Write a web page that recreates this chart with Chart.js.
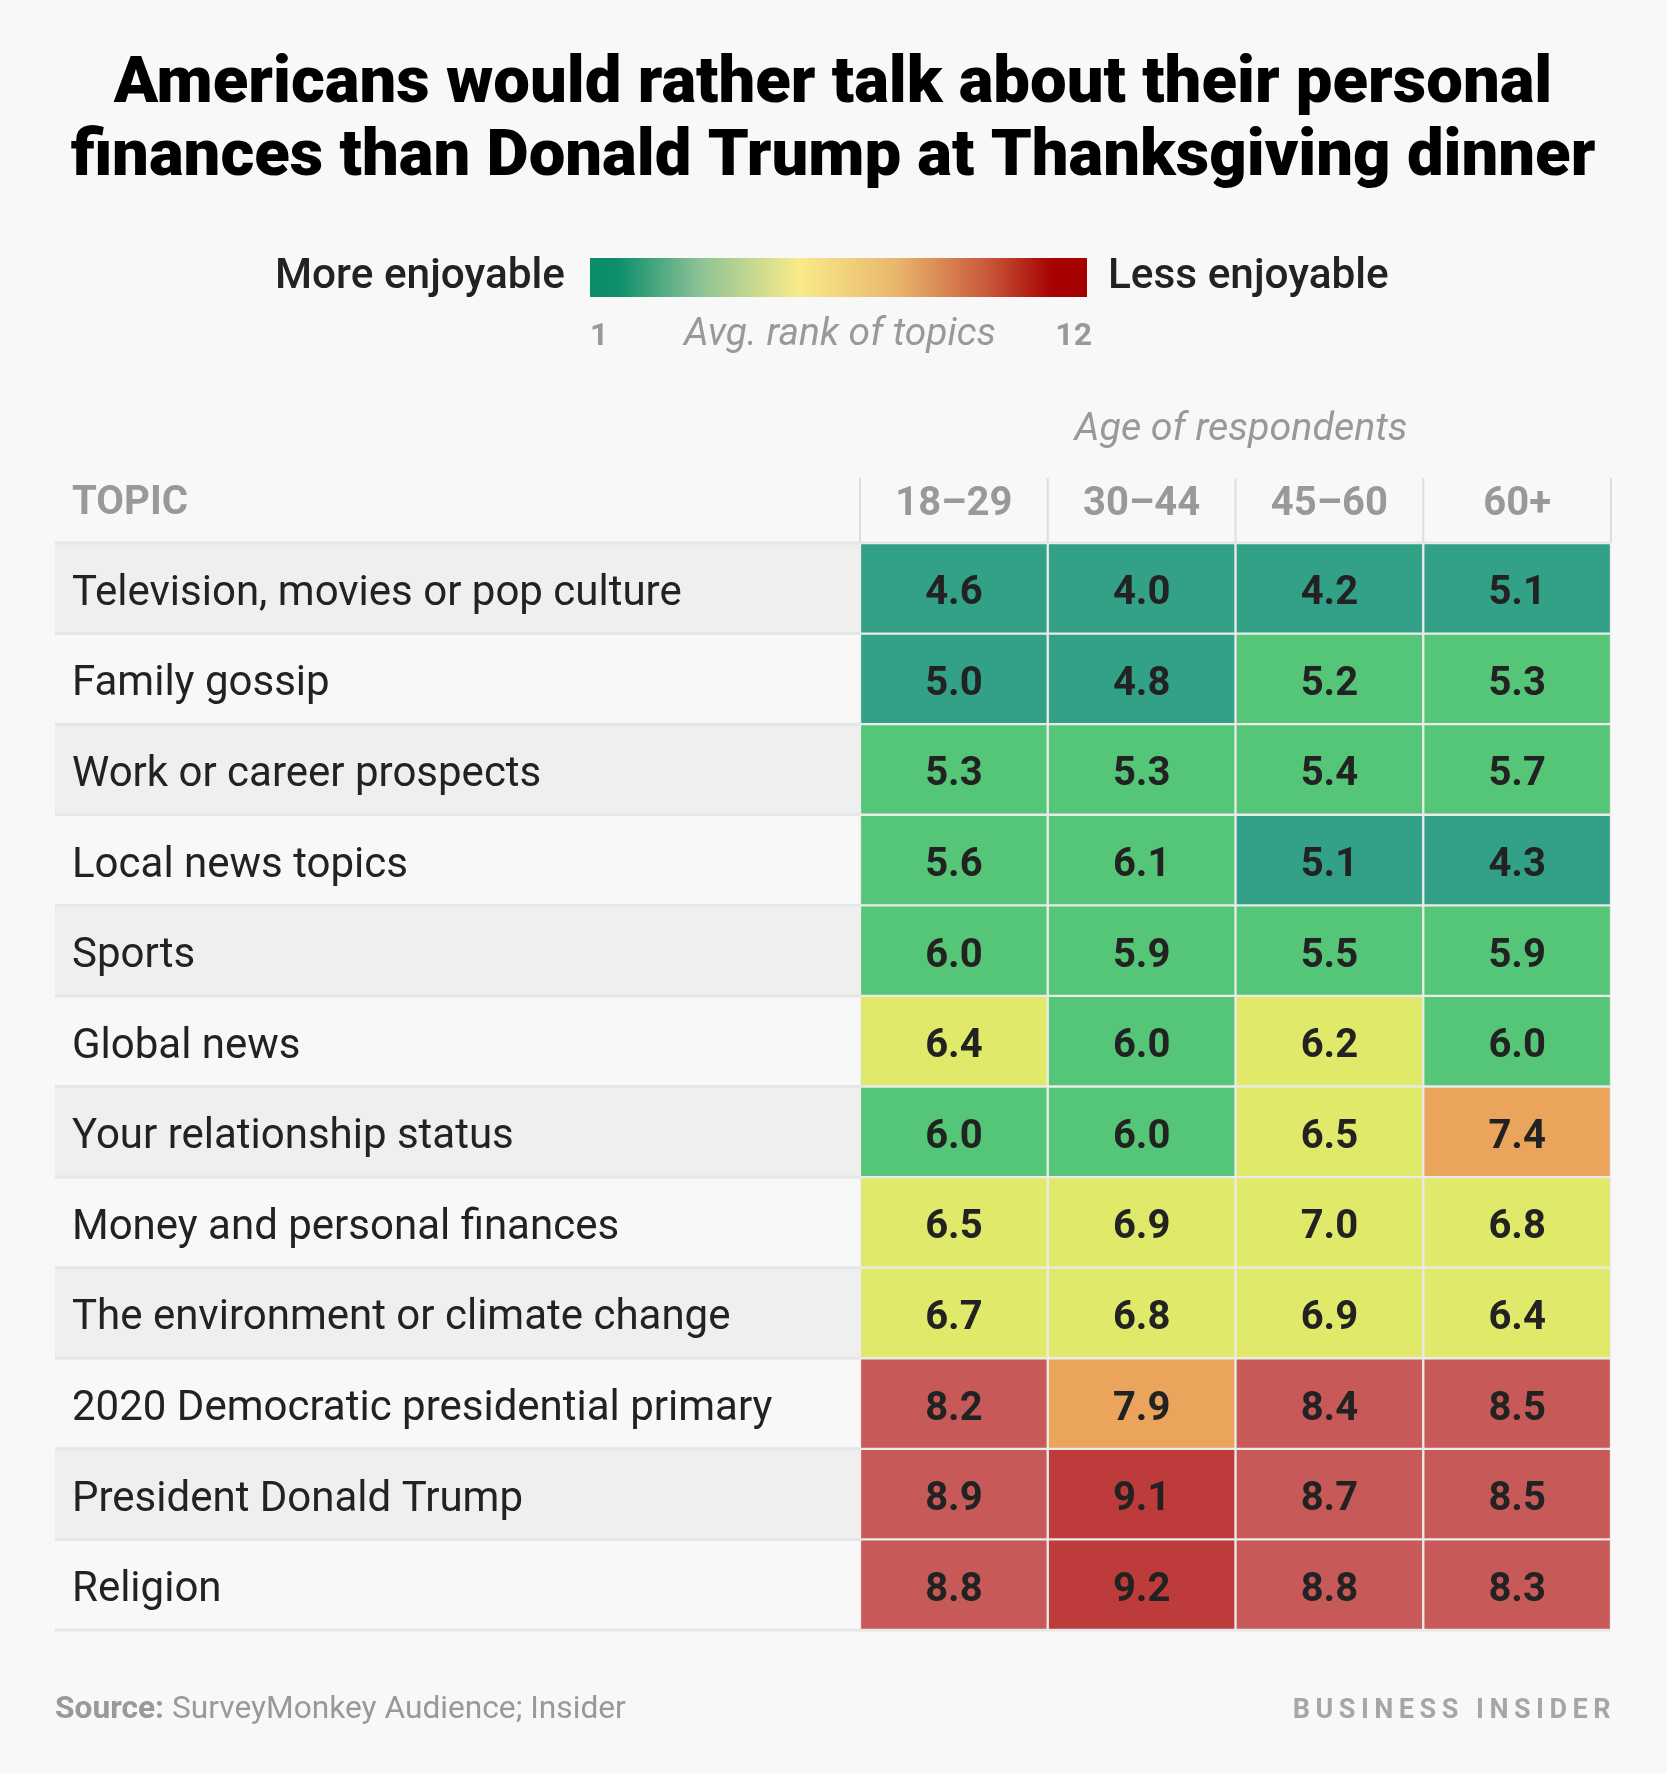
<!DOCTYPE html>
<html>
<head>
<meta charset="utf-8">
<script src="https://cdn.jsdelivr.net/npm/chart.js@4"></script>
<style>
  html, body { margin: 0; padding: 0; background: #f8f8f8; }
  canvas { display: block; }
</style>
</head>
<body>
<canvas id="heatmap" width="1667" height="1774"></canvas>
<script>
// Data
const topics = [
  'Television, movies or pop culture',
  'Family gossip',
  'Work or career prospects',
  'Local news topics',
  'Sports',
  'Global news',
  'Your relationship status',
  'Money and personal finances',
  'The environment or climate change',
  '2020 Democratic presidential primary',
  'President Donald Trump',
  'Religion'
];
const ageGroups = ['18–29', '30–44', '45–60', '60+'];
const age18to29 = [4.6, 5.0, 5.3, 5.6, 6.0, 6.4, 6.0, 6.5, 6.7, 8.2, 8.9, 8.8];
const age30to44 = [4.0, 4.8, 5.3, 6.1, 5.9, 6.0, 6.0, 6.9, 6.8, 7.9, 9.1, 9.2];
const age45to60 = [4.2, 5.2, 5.4, 5.1, 5.5, 6.2, 6.5, 7.0, 6.9, 8.4, 8.7, 8.8];
const age60plus = [5.1, 5.3, 5.7, 4.3, 5.9, 6.0, 7.4, 6.8, 6.4, 8.5, 8.5, 8.3];
const scaleTicks = ['1', '12'];

const columns = [age18to29, age30to44, age45to60, age60plus];

// Colour bins
const binEdges = [5.15, 6.15, 7.2, 8.0, 9.0];
const binColors = ['#33a187', '#55c677', '#e0e96a', '#eaa45b', '#c75a59', '#be3b3c'];
const colorFor = v => {
  let i = 0;
  while (i < binEdges.length && v >= binEdges[i]) i++;
  return binColors[i];
};

const FONT = 'Roboto, "Liberation Sans", sans-serif';

// font size that makes a string span a given width
function fitSize(ctx, text, weight, style, width) {
  ctx.font = `${style} ${weight} 100px ${FONT}`;
  return 100 * width / ctx.measureText(text).width;
}

const chrome = {
  id: 'chrome',
  beforeDraw(chart) {
    const { ctx, chartArea, scales } = chart;
    const y = scales.y;
    const half = (y.getPixelForValue(1) - y.getPixelForValue(0)) / 2;
    ctx.save();
    // row stripes
    topics.forEach((t, i) => {
      const cy = y.getPixelForValue(i);
      ctx.fillStyle = i % 2 === 0 ? '#efefef' : '#f8f8f8';
      ctx.fillRect(55, cy - half, chartArea.right - 55, half * 2);
    });
    // row separators
    ctx.strokeStyle = '#e6e6e6';
    ctx.lineWidth = 3;
    for (let i = 0; i <= topics.length; i++) {
      const ly = y.getPixelForValue(0) - half + i * half * 2;
      ctx.beginPath();
      ctx.moveTo(55, ly);
      ctx.lineTo(chartArea.right, ly);
      ctx.stroke();
    }
    // header column lines
    const x = scales.x;
    ctx.strokeStyle = '#dedede';
    ctx.lineWidth = 2;
    for (let j = 0; j <= ageGroups.length; j++) {
      const lx = x.getPixelForValue(j);
      ctx.beginPath();
      ctx.moveTo(lx, 478);
      ctx.lineTo(lx, chartArea.top);
      ctx.stroke();
    }
    ctx.restore();
  },
  afterDatasetsDraw(chart) {
    const { ctx } = chart;
    ctx.save();
    ctx.font = `bold 40px ${FONT}`;
    ctx.fillStyle = '#222';
    ctx.textAlign = 'center';
    ctx.textBaseline = 'middle';
    chart.data.datasets.forEach((ds, j) => {
      chart.getDatasetMeta(j).data.forEach((bar, i) => {
        ctx.fillText(columns[j][i].toFixed(1), (bar.x + bar.base) / 2, bar.y + 6);
      });
    });
    ctx.restore();
  },
  afterDraw(chart) {
    const { ctx } = chart;
    ctx.save();
    // title
    const t1 = 'Americans would rather talk about their personal';
    const t2 = 'finances than Donald Trump at Thanksgiving dinner';
    const ts = fitSize(ctx, t2, '900', 'normal', 1525);
    ctx.font = `900 ${ts}px ${FONT}`;
    ctx.fillStyle = '#000';
    ctx.textAlign = 'center';
    ctx.textBaseline = 'alphabetic';
    ctx.fillText(t1, 833, 102);
    ctx.fillText(t2, 833, 175);

    // colour legend
    const gx0 = 590, gx1 = 1087, gy0 = 258, gy1 = 297;
    const g = ctx.createLinearGradient(gx0, 0, gx1, 0);
    g.addColorStop(0, '#0b8d69');
    g.addColorStop(0.06, '#0f8f6c');
    g.addColorStop(0.22, '#8cc295');
    g.addColorStop(0.42, '#f8eb8a');
    g.addColorStop(0.62, '#e9b56c');
    g.addColorStop(0.8, '#c9583a');
    g.addColorStop(0.93, '#a60202');
    g.addColorStop(1, '#a50000');
    ctx.fillStyle = g;
    ctx.fillRect(gx0, gy0, gx1 - gx0, gy1 - gy0);

    ctx.fillStyle = '#222';
    let s = fitSize(ctx, 'More enjoyable', '500', 'normal', 290);
    ctx.font = `500 ${s}px ${FONT}`;
    ctx.textAlign = 'right';
    ctx.fillText('More enjoyable', 565, 288);
    ctx.textAlign = 'left';
    ctx.fillText('Less enjoyable', 1108, 288);

    ctx.fillStyle = '#999';
    ctx.font = `bold 32px ${FONT}`;
    ctx.textAlign = 'left';
    ctx.fillText(scaleTicks[0], 590, 345);
    ctx.textAlign = 'right';
    ctx.fillText(scaleTicks[1], 1092, 345);
    s = fitSize(ctx, 'Avg. rank of topics', 'normal', 'italic', 312);
    ctx.font = `italic ${s}px ${FONT}`;
    ctx.textAlign = 'center';
    ctx.fillText('Avg. rank of topics', 840, 345);

    s = fitSize(ctx, 'Age of respondents', 'normal', 'italic', 333);
    ctx.font = `italic ${s}px ${FONT}`;
    ctx.fillText('Age of respondents', 1241, 440);

    s = fitSize(ctx, 'TOPIC', 'bold', 'normal', 116);
    ctx.font = `bold ${s}px ${FONT}`;
    ctx.textAlign = 'left';
    ctx.fillText('TOPIC', 72, 514);

    // footer
    const src = 'SurveyMonkey Audience; Insider';
    ctx.font = `bold 100px ${FONT}`;
    const w1 = ctx.measureText('Source: ').width;
    ctx.font = `100px ${FONT}`;
    const w2 = ctx.measureText(src).width;
    const fs = 100 * 571 / (w1 + w2);
    ctx.fillStyle = '#999';
    ctx.font = `bold ${fs}px ${FONT}`;
    ctx.fillText('Source:', 55, 1718);
    ctx.font = `${fs}px ${FONT}`;
    ctx.fillText(src, 55 + w1 * fs / 100, 1718);

    ctx.font = `bold 27px ${FONT}`;
    ctx.letterSpacing = '5.5px';
    ctx.textAlign = 'right';
    ctx.fillStyle = '#a6a6a6';
    ctx.fillText('BUSINESS INSIDER', 1616, 1718);
    ctx.restore();
  }
};

new Chart(document.getElementById('heatmap'), {
  type: 'bar',
  data: {
    labels: topics,
    datasets: columns.map((vals, j) => ({
      label: ageGroups[j],
      data: vals.map(() => [j, j + 1]),
      backgroundColor: vals.map(colorFor),
      borderColor: '#ebebeb',
      borderWidth: 1.5,
      borderSkipped: false,
      barPercentage: 1,
      categoryPercentage: 1,
      grouped: false,
    }))
  },
  options: {
    indexAxis: 'y',
    responsive: false,
    animation: false,
    layout: { padding: { left: 72, right: 56, top: 478, bottom: 144 } },
    plugins: {
      legend: { display: false },
      tooltip: { enabled: false },
    },
    scales: {
      x: { type: 'linear', min: 0, max: 4, display: false },
      x2: {
        type: 'category',
        position: 'top',
        labels: ageGroups,
        offset: true,
        grid: { display: false },
        border: { display: false },
        ticks: { font: { family: FONT, size: 40, weight: 'bold' }, color: '#999', padding: 6 },
        afterFit: s => { s.height = 65; }
      },
      y: {
        type: 'category',
        grid: { display: false },
        border: { display: false },
        ticks: {
          crossAlign: 'far',
          labelOffset: 6,
          font: { family: FONT, size: 42 },
          color: '#222',
        },
        afterFit: s => { s.width = 788; }
      }
    }
  },
  plugins: [chrome]
});
</script>
</body>
</html>
